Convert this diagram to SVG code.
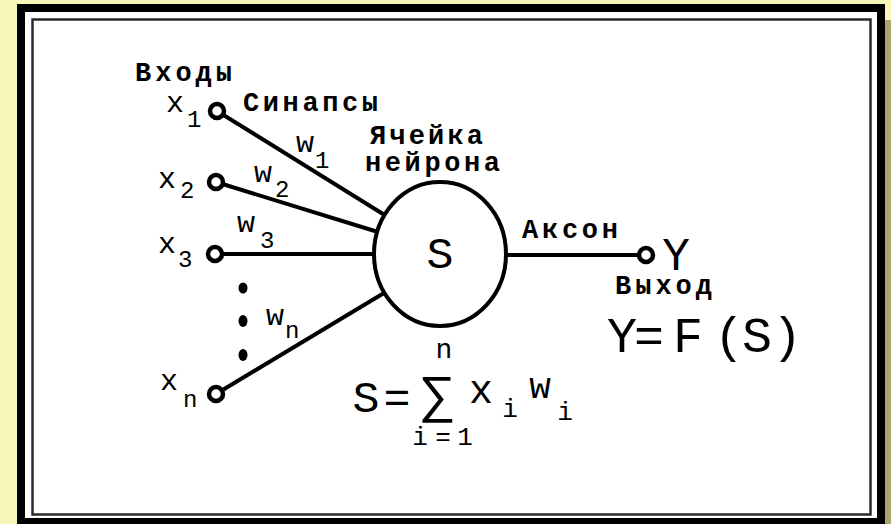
<svg xmlns="http://www.w3.org/2000/svg" width="891" height="524" viewBox="0 0 891 524">
<style>
.lbl{font-family:"Liberation Mono","DejaVu Sans Mono",monospace;font-weight:bold;font-size:27px;fill:#000}
.m{font-family:"Liberation Mono","DejaVu Sans Mono",monospace;fill:#000}
.wire{stroke:#000;stroke-width:4;fill:none;stroke-linecap:round}
.term{fill:#fff;stroke:#000;stroke-width:4.5}
</style>
<rect x="0" y="0" width="891" height="524" fill="#f8f5b8"/>
<rect x="885" y="20" width="6" height="504" fill="#aaa56c"/>
<rect x="17" y="4" width="868" height="525" fill="#000"/>
<rect x="25" y="12" width="852" height="506" fill="#fff"/>
<rect x="32.5" y="19.5" width="838" height="495" fill="none" stroke="#2a2a2a" stroke-width="2.5"/>

<g id="connectors">
<line class="wire" x1="217" y1="111" x2="383" y2="214"/>
<line class="wire" x1="216" y1="182" x2="378" y2="232"/>
<line class="wire" x1="215" y1="254" x2="376" y2="254"/>
<line class="wire" x1="216" y1="394" x2="384" y2="293"/>
<line class="wire" x1="505" y1="255" x2="646" y2="255"/>
</g>

<g id="neuron">
<ellipse cx="440" cy="254" rx="66" ry="72" fill="#fff" stroke="#000" stroke-width="4"/>
<text class="m" x="440" y="268" font-size="45" text-anchor="middle">S</text>
<text class="lbl" x="370" y="144" font-size="25" textLength="113">Ячейка</text>
<text class="lbl" x="365" y="171" font-size="25" textLength="135">нейрона</text>
</g>

<g id="input-x1">
<circle class="term" cx="217" cy="111" r="7"/>
<text class="m" x="166" y="112" font-size="30">x</text>
<text class="m" x="187" y="127" font-size="24">1</text>
</g>
<g id="input-x2">
<circle class="term" cx="216" cy="182" r="7"/>
<text class="m" x="158" y="188" font-size="30">x</text>
<text class="m" x="180" y="198" font-size="24">2</text>
</g>
<g id="input-x3">
<circle class="term" cx="215" cy="254" r="7"/>
<text class="m" x="158" y="253" font-size="30">x</text>
<text class="m" x="178" y="267" font-size="24">3</text>
</g>
<g id="input-xn">
<circle class="term" cx="216" cy="394" r="7"/>
<text class="m" x="160" y="390" font-size="30">x</text>
<text class="m" x="183" y="407" font-size="24">n</text>
</g>
<g id="dots">
<ellipse cx="243" cy="288" rx="4.5" ry="5.5" fill="#000"/>
<ellipse cx="243" cy="321" rx="4.5" ry="6" fill="#000"/>
<ellipse cx="243" cy="355" rx="4.5" ry="6" fill="#000"/>
</g>

<g id="weights">
<text class="m" x="296" y="152" font-size="30">w</text>
<text class="m" x="315" y="168" font-size="24">1</text>
<text class="m" x="254" y="182" font-size="30">w</text>
<text class="m" x="275" y="197" font-size="24">2</text>
<text class="m" x="237" y="232" font-size="30">w</text>
<text class="m" x="260" y="248" font-size="24">3</text>
<text class="m" x="266" y="325" font-size="30">w</text>
<text class="m" x="285" y="338" font-size="24">n</text>
</g>

<g id="labels">
<text class="lbl" x="135" y="81" textLength="97">Входы</text>
<text class="lbl" x="243" y="111" textLength="135">Синапсы</text>
<text class="lbl" x="522" y="238" textLength="96">Аксон</text>
</g>

<g id="output">
<circle class="term" cx="646" cy="255" r="7"/>
<text class="m" x="676" y="270" font-size="46" text-anchor="middle">Y</text>
<text class="lbl" x="615" y="294" font-size="26" textLength="97">Выход</text>
<text class="m" x="622 649 688 729 757 787" y="352" font-size="50" text-anchor="middle">Y=F(S)</text>
</g>

<g id="formula">
<text class="m" x="444" y="358" font-size="28" text-anchor="middle">n</text>
<text class="m" x="366 397" y="412" font-size="45" text-anchor="middle">S=</text>
<text class="m" x="437" y="411" font-size="52" text-anchor="middle">∑</text>
<text class="m" x="481" y="403" font-size="40" text-anchor="middle">x</text>
<text class="m" x="510" y="417" font-size="26" text-anchor="middle">i</text>
<text class="m" x="540" y="398" font-size="36" text-anchor="middle">w</text>
<text class="m" x="565" y="420" font-size="26" text-anchor="middle">i</text>
<text class="m" x="420 443 465" y="445" font-size="26" text-anchor="middle">i=1</text>
</g>
</svg>
